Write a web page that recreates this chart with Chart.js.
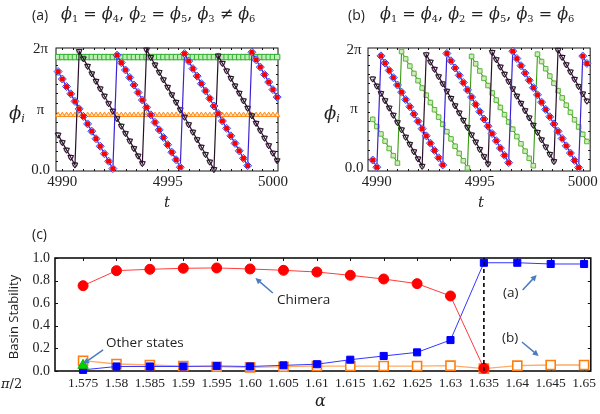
<!DOCTYPE html>
<html>
<head>
<meta charset="utf-8">
<script src="https://cdn.jsdelivr.net/npm/chart.js@4.4.1/dist/chart.umd.min.js"></script>
<style>
  body { margin: 0; background: #fff; }
  #fig { position: relative; width: 600px; height: 414px; overflow: hidden; background: #fff; }
  canvas { position: absolute; }
  .t { position: absolute; white-space: nowrap; color: #222; line-height: 1; }
  .sans { font-family: "Open Sans", sans-serif; }
  .ser { font-family: "DejaVu Serif", serif; }
  .ser i { font-style: italic; }
  sub { font-size: 0.62em; vertical-align: -0.3em; font-style: normal; }
  .lbl { font-family: "Open Sans", sans-serif; font-size: 13.5px; color: #222; }
</style>
</head>
<body>
<div id="fig">
  <canvas id="ca" width="300" height="215" style="left:0;top:0"></canvas>
  <canvas id="cb" width="300" height="215" style="left:300px;top:0"></canvas>
  <canvas id="cc" width="600" height="194" style="left:0;top:220px"></canvas>

  <div class="t sans" style="left:32px;top:8px;font-size:14px">(a)</div>
  <div class="t ser" style="left:61px;top:6px;font-size:16px"><i>ϕ</i><sub>1</sub> = <i>ϕ</i><sub>4</sub>, <i>ϕ</i><sub>2</sub> = <i>ϕ</i><sub>5</sub>, <i>ϕ</i><sub>3</sub> ≠ <i>ϕ</i><sub>6</sub></div>
  <div class="t sans" style="left:348px;top:8px;font-size:14px">(b)</div>
  <div class="t ser" style="left:380px;top:6px;font-size:16px"><i>ϕ</i><sub>1</sub> = <i>ϕ</i><sub>4</sub>, <i>ϕ</i><sub>2</sub> = <i>ϕ</i><sub>5</sub>, <i>ϕ</i><sub>3</sub> = <i>ϕ</i><sub>6</sub></div>

  <div class="t ser" style="left:9px;top:104px;font-size:18px"><i>ϕ</i><sub><i>i</i></sub></div>
  <div class="t ser" style="left:324px;top:104px;font-size:18px"><i>ϕ</i><sub><i>i</i></sub></div>
  <div class="t ser" style="left:164px;top:195px;font-size:15px"><i>t</i></div>
  <div class="t ser" style="left:478px;top:195px;font-size:15px"><i>t</i></div>

  <div class="t sans" style="left:32px;top:227px;font-size:14px">(c)</div>
  <div class="t sans" style="left:13px;top:317px;font-size:13px;transform:translate(-50%,-50%) rotate(-90deg)">Basin Stability</div>
  <div class="t ser" style="left:1px;top:377px;font-size:13px"><i>π</i>/2</div>
  <div class="t ser" style="left:315px;top:393px;font-size:16px"><i>α</i></div>

  <div class="t lbl" style="left:277px;top:293px">Chimera</div>
  <div class="t lbl" style="left:106px;top:336px">Other states</div>
  <div class="t lbl" style="left:503px;top:286px">(a)</div>
  <div class="t lbl" style="left:502px;top:331px">(b)</div>
</div>

<script>
// время (общая сетка для обоих фазовых графиков)
const T = [4989.8, 4990.0, 4990.2, 4990.4, 4990.6, 4990.8,
  4991.0, 4991.2, 4991.4, 4991.6, 4991.8,
  4992.0, 4992.2, 4992.4, 4992.6, 4992.8,
  4993.0, 4993.2, 4993.4, 4993.6, 4993.8,
  4994.0, 4994.2, 4994.4, 4994.6, 4994.8,
  4995.0, 4995.2, 4995.4, 4995.6, 4995.8,
  4996.0, 4996.2, 4996.4, 4996.6, 4996.8,
  4997.0, 4997.2, 4997.4, 4997.6, 4997.8,
  4998.0, 4998.2, 4998.4, 4998.6, 4998.8,
  4999.0, 4999.2, 4999.4, 4999.6, 4999.8,
  5000.0, 5000.2];

// (a) phi1 = phi4, phi2 = phi5, phi3, phi6
const phi1A = [5.14, 4.75, 4.36, 3.98, 3.59, 3.20, 2.81, 2.42, 2.04, 1.65, 1.26, 0.87, 0.48, 0.10, 5.99,
  5.60, 5.22, 4.83, 4.44, 4.05, 3.66, 3.28, 2.89, 2.50, 2.11, 1.72, 1.34, 0.95, 0.56, 0.17, 6.07,
  5.68, 5.29, 4.90, 4.51, 4.13, 3.74, 3.35, 2.96, 2.57, 2.19, 1.80, 1.41, 1.02, 0.63, 0.25, 6.14,
  5.75, 5.37, 4.98, 4.59, 4.20, 3.81];
const phi2A = [1.85, 1.46, 1.07, 0.69, 0.30,
  6.19, 5.81, 5.42, 5.03, 4.64, 4.25, 3.87, 3.48, 3.09, 2.70, 2.31, 1.93, 1.54, 1.15, 0.76, 0.37,
  6.27, 5.88, 5.49, 5.10, 4.72, 4.33, 3.94, 3.55, 3.16, 2.78, 2.39, 2.00, 1.61, 1.22, 0.84, 0.45, 0.06,
  5.96, 5.57, 5.18, 4.79, 4.40, 4.02, 3.63, 3.24, 2.85, 2.46, 2.08, 1.69, 1.30, 0.91, 0.52];
const phi3A = [5.89, 5.89, 5.89, 5.89, 5.89, 5.89, 5.89, 5.89, 5.89, 5.89, 5.89, 5.89, 5.89, 5.89,
  5.89, 5.89, 5.89, 5.89, 5.89, 5.89, 5.89, 5.89, 5.89, 5.89, 5.89, 5.89, 5.89, 5.89, 5.89, 5.89,
  5.89, 5.89, 5.89, 5.89, 5.89, 5.89, 5.89, 5.89, 5.89, 5.89, 5.89, 5.89, 5.89, 5.89, 5.89, 5.89,
  5.89, 5.89, 5.89, 5.89, 5.89, 5.89, 5.89];
const phi6A = [2.88, 2.88, 2.88, 2.88, 2.88, 2.88, 2.88, 2.88, 2.88, 2.88, 2.88, 2.88, 2.88, 2.88,
  2.88, 2.88, 2.88, 2.88, 2.88, 2.88, 2.88, 2.88, 2.88, 2.88, 2.88, 2.88, 2.88, 2.88, 2.88, 2.88,
  2.88, 2.88, 2.88, 2.88, 2.88, 2.88, 2.88, 2.88, 2.88, 2.88, 2.88, 2.88, 2.88, 2.88, 2.88, 2.88,
  2.88, 2.88, 2.88, 2.88, 2.88, 2.88, 2.88];

// (b) phi1 = phi4, phi2 = phi5, phi3 = phi6
const phi1B = [0.45, 0.07,
  5.96, 5.58, 5.19, 4.81, 4.42, 4.04, 3.65, 3.27, 2.88, 2.50, 2.11, 1.73, 1.34, 0.96, 0.57, 0.19,
  6.09, 5.70, 5.32, 4.93, 4.55, 4.16, 3.78, 3.39, 3.01, 2.62, 2.24, 1.85, 1.47, 1.08, 0.70, 0.31,
  6.21, 5.82, 5.44, 5.05, 4.67, 4.28, 3.90, 3.51, 3.13, 2.74, 2.36, 1.97, 1.59, 1.20, 0.82, 0.43, 0.05,
  5.95, 5.56];
const phi2B = [4.75, 4.37, 3.98, 3.60, 3.21, 2.83, 2.44, 2.06, 1.67, 1.29, 0.90, 0.52, 0.13,
  6.03, 5.64, 5.26, 4.87, 4.49, 4.10, 3.72, 3.33, 2.95, 2.56, 2.18, 1.79, 1.41, 1.02, 0.64, 0.25,
  6.15, 5.77, 5.38, 5.00, 4.61, 4.23, 3.84, 3.46, 3.07, 2.69, 2.30, 1.92, 1.53, 1.15, 0.76, 0.38,
  6.27, 5.89, 5.50, 5.12, 4.73, 4.35, 3.96, 3.58];
const phi3B = [2.60, 2.22, 1.83, 1.45, 1.06, 0.68, 0.29,
  6.19, 5.80, 5.42, 5.03, 4.65, 4.26, 3.88, 3.49, 3.11, 2.72, 2.34, 1.95, 1.57, 1.18, 0.80, 0.41, 0.03,
  5.93, 5.54, 5.16, 4.77, 4.39, 4.00, 3.62, 3.23, 2.85, 2.46, 2.08, 1.69, 1.31, 0.92, 0.54, 0.15,
  6.05, 5.66, 5.28, 4.89, 4.51, 4.12, 3.74, 3.35, 2.97, 2.58, 2.20, 1.81, 1.43];

const tTicks = [4990, 4995, 5000];
const phiTicks = [0, Math.PI, 2 * Math.PI];
const phiLabels = ["0.0", "π", "2π"];

// (c) basin stability
const alpha = [1.575, 1.58, 1.585, 1.59, 1.595, 1.60, 1.605, 1.61, 1.615, 1.62, 1.625, 1.63, 1.635, 1.64, 1.645, 1.65];
const alphaLabels = ["1.575", "1.58", "1.585", "1.59", "1.595", "1.60", "1.605", "1.61", "1.615", "1.62", "1.625", "1.63", "1.635", "1.64", "1.645", "1.65"];
const chimera = [0.755, 0.888, 0.90, 0.909, 0.912, 0.903, 0.891, 0.876, 0.847, 0.814, 0.773, 0.664, 0.024, null, null, null];
const stateA = [0.01, 0.04, 0.04, 0.04, 0.044, 0.04, 0.05, 0.06, 0.10, 0.133, 0.165, 0.274, 0.958, 0.958, 0.947, 0.947];
const stateB = [0.091, 0.062, 0.053, 0.044, 0.038, 0.032, 0.038, 0.044, 0.044, 0.044, 0.044, 0.047, 0.021, 0.047, 0.053, 0.053];
const otherStates = [0.05, null, null, null, null, null, null, null, null, null, null, null, null, null, null, null];
const bsTicks = [0, 0.2, 0.4, 0.6, 0.8, 1.0];
const transitionAlpha = 1.635;
// стрелки-подписи: [x0, y0, x1, y1] в координатах данных
const arrows = [
  [1.6034, 0.69, 1.6008, 0.823],
  [1.5780, 0.186, 1.5750, 0.062],
  [1.6408, 0.717, 1.6429, 0.85],
  [1.6407, 0.257, 1.6432, 0.133]
];

const SERIF = "'Liberation Serif', 'Times New Roman', serif";
Chart.defaults.color = "#222";

const pts = (xs, ys) => xs.map((x, i) => ({ x: x, y: ys[i] }));

// рамка с внутренними засечками
const framePlugin = {
  id: "frame",
  beforeDatasetsDraw(chart, args, o) {
    const { ctx, chartArea: a, scales: { x, y } } = chart;
    ctx.save();
    ctx.strokeStyle = "#111";
    ctx.lineWidth = o.width;
    ctx.strokeRect(a.left, a.top, a.right - a.left, a.bottom - a.top);
    ctx.lineWidth = 1;
    ctx.beginPath();
    (o.xTicks || []).forEach(v => {
      const px = Math.round(x.getPixelForValue(v)) + 0.5;
      ctx.moveTo(px, a.top); ctx.lineTo(px, a.top + o.len);
      ctx.moveTo(px, a.bottom); ctx.lineTo(px, a.bottom - o.len);
    });
    (o.yTicks || []).forEach(v => {
      const py = Math.round(y.getPixelForValue(v)) + 0.5;
      ctx.moveTo(a.left, py); ctx.lineTo(a.left + o.len, py);
      ctx.moveTo(a.right, py); ctx.lineTo(a.right - o.len, py);
    });
    ctx.stroke();
    ctx.restore();
  }
};

const minorT = [];
for (let v = 4990; v <= 5000.01; v += 0.5) minorT.push(v);
const minorPhi = [];
for (let v = 0.5; v < 6.3; v += 0.5) minorPhi.push(v);

function phaseChart(id, xMin, xMax, yMin, yMax, pad, yWidth, labelPad, datasets) {
  return new Chart(document.getElementById(id), {
    type: "line",
    data: { datasets: datasets },
    options: {
      responsive: false,
      animation: false,
      events: [],
      layout: { padding: pad },
      plugins: {
        legend: { display: false },
        tooltip: { enabled: false },
        frame: { width: 1, len: 2, xTicks: minorT, yTicks: minorPhi }
      },
      scales: {
        x: {
          type: "linear", min: xMin, max: xMax,
          grid: { display: false, drawTicks: false },
          border: { display: false },
          afterBuildTicks: s => { s.ticks = tTicks.map(v => ({ value: v })); },
          afterFit: s => { s.height = 215 - pad.top - (171 - 48) - pad.bottom; },
          ticks: { font: { family: SERIF, size: 15 }, padding: 2, maxRotation: 0, autoSkip: false, callback: v => String(v) }
        },
        y: {
          min: yMin, max: yMax,
          grid: { display: false, drawTicks: false },
          border: { display: false },
          afterBuildTicks: s => { s.ticks = phiTicks.map(v => ({ value: v })); },
          afterFit: s => { s.width = yWidth; },
          ticks: { font: { family: SERIF, size: 15 }, padding: labelPad, crossAlign: "center", autoSkip: false,
                   callback: (v, i) => phiLabels[i] }
        }
      }
    },
    plugins: [framePlugin]
  });
}

function diag(d) { return Object.assign({ clip: false, pointHoverRadius: 0 }, d); }

phaseChart("ca", 4989.70, 5000.24, -0.026, 6.361, { left: 0, right: 22, top: 48, bottom: 0 }, 56, 6, [
  diag({ data: pts(T, phi1A), showLine: false, pointStyle: "circle", pointRadius: 2.6,
         pointBackgroundColor: "#ff0000", pointBorderWidth: 0, order: 1 }),
  diag({ data: pts(T, phi1A), borderColor: "#3a22d6", borderWidth: 1.2, pointStyle: "rectRot", pointRadius: 4,
         pointBorderColor: "#2f4dff", pointBackgroundColor: "#d6ddff", pointBorderWidth: 1, order: 2 }),
  diag({ data: pts(T, phi2A), borderColor: "#2a0f2a", borderWidth: 1.2, pointStyle: "triangle", rotation: 180,
         pointRadius: 3.4, pointBorderColor: "#1a1a1a", pointBackgroundColor: "rgba(255,255,255,0)", pointBorderWidth: 1, order: 3 }),
  diag({ data: pts(T, phi2A), showLine: false, pointStyle: "circle", pointRadius: 2.4,
         pointBorderColor: "#a35aa3", pointBackgroundColor: "rgba(255,255,255,0)", pointBorderWidth: 1, order: 4 }),
  diag({ data: pts(T, phi3A), borderColor: "#2fae2f", borderWidth: 1, pointStyle: "rect", pointRadius: 3.8,
         pointBorderColor: "#2fae2f", pointBackgroundColor: "#bdeeb4", pointBorderWidth: 1, order: 5 }),
  diag({ data: pts(T, phi6A), borderColor: "#ff9933", borderWidth: 1, pointStyle: "triangle", pointRadius: 3,
         pointBorderColor: "#ff8c1a", pointBackgroundColor: "#ffdcae", pointBorderWidth: 1, order: 6 })
]);

phaseChart("cb", 4989.57, 5000.36, -0.13, 6.377, { left: 0, right: 7, top: 48, bottom: 0 }, 68, 4.5, [
  diag({ data: pts(T, phi1B), showLine: false, pointStyle: "circle", pointRadius: 2.6,
         pointBackgroundColor: "#ff0000", pointBorderWidth: 0, order: 1 }),
  diag({ data: pts(T, phi1B), borderColor: "#3a22d6", borderWidth: 1.2, pointStyle: "rectRot", pointRadius: 4,
         pointBorderColor: "#2f4dff", pointBackgroundColor: "#d6ddff", pointBorderWidth: 1, order: 2 }),
  diag({ data: pts(T, phi2B), borderColor: "#2a0f2a", borderWidth: 1.2, pointStyle: "triangle", rotation: 180,
         pointRadius: 3.4, pointBorderColor: "#1a1a1a", pointBackgroundColor: "rgba(255,255,255,0)", pointBorderWidth: 1, order: 3 }),
  diag({ data: pts(T, phi2B), showLine: false, pointStyle: "circle", pointRadius: 2.4,
         pointBorderColor: "#a35aa3", pointBackgroundColor: "rgba(255,255,255,0)", pointBorderWidth: 1, order: 4 }),
  diag({ data: pts(T, phi3B), borderColor: "#3c9a12", borderWidth: 1.1, pointStyle: "rect", pointRadius: 3.2,
         pointBorderColor: "#5bb845", pointBackgroundColor: "#cdeeb8", pointBorderWidth: 1, order: 5 }),
  diag({ data: pts(T, phi3B), showLine: false, pointStyle: "triangle", pointRadius: 2.8,
         pointBorderColor: "#f0a030", pointBackgroundColor: "rgba(255,255,255,0)", pointBorderWidth: 1, order: 6 })
]);

// (c): пунктир перехода и стрелки
const notesPlugin = {
  id: "notes",
  afterDatasetsDraw(chart) {
    const { ctx, scales: { x, y } } = chart;
    ctx.save();
    ctx.strokeStyle = "#000";
    ctx.lineWidth = 1.6;
    ctx.setLineDash([4, 3]);
    ctx.beginPath();
    ctx.moveTo(x.getPixelForValue(transitionAlpha), y.getPixelForValue(0));
    ctx.lineTo(x.getPixelForValue(transitionAlpha), y.getPixelForValue(1));
    ctx.stroke();
    ctx.setLineDash([]);
    ctx.strokeStyle = "#4a7cc4";
    ctx.fillStyle = "#4a7cc4";
    ctx.lineWidth = 1.5;
    arrows.forEach(([ax, ay, bx, by]) => {
      const x0 = x.getPixelForValue(ax), y0 = y.getPixelForValue(ay);
      const x1 = x.getPixelForValue(bx), y1 = y.getPixelForValue(by);
      const ang = Math.atan2(y1 - y0, x1 - x0);
      ctx.beginPath();
      ctx.moveTo(x0, y0);
      ctx.lineTo(x1 - 4 * Math.cos(ang), y1 - 4 * Math.sin(ang));
      ctx.stroke();
      ctx.beginPath();
      ctx.moveTo(x1, y1);
      ctx.lineTo(x1 - 6 * Math.cos(ang) + 3 * Math.sin(ang), y1 - 6 * Math.sin(ang) - 3 * Math.cos(ang));
      ctx.lineTo(x1 - 6 * Math.cos(ang) - 3 * Math.sin(ang), y1 - 6 * Math.sin(ang) + 3 * Math.cos(ang));
      ctx.closePath();
      ctx.fill();
    });
    ctx.restore();
  }
};

new Chart(document.getElementById("cc"), {
  type: "line",
  data: {
    datasets: [
      diag({ data: pts(alpha, chimera), borderColor: "#ff3b3b", borderWidth: 1, pointStyle: "circle", pointRadius: 5,
             pointBackgroundColor: "#ff0000", pointBorderColor: "#ff0000", order: 1 }),
      diag({ data: pts(alpha, otherStates), showLine: false, pointStyle: "triangle", pointRadius: 6,
             pointBackgroundColor: "#00d400", pointBorderColor: "#00b800", order: 2 }),
      diag({ data: pts(alpha, stateA), borderColor: "#3535ff", borderWidth: 1, pointStyle: "rect", pointRadius: 5,
             pointBackgroundColor: "#0000ff", pointBorderColor: "#0000ff", order: 3 }),
      diag({ data: pts(alpha, stateB), borderColor: "#ffab66", borderWidth: 1.3, pointStyle: "rect", pointRadius: 6.4,
             pointBackgroundColor: "#ffffff", pointBorderColor: "#ff7f0e", pointBorderWidth: 1.6, order: 4 })
    ]
  },
  options: {
    responsive: false,
    animation: false,
    events: [],
    layout: { padding: { left: 0, right: 8, top: 38, bottom: 0 } },
    plugins: {
      legend: { display: false },
      tooltip: { enabled: false },
      frame: { width: 1.6, len: 3, xTicks: alpha, yTicks: bsTicks }
    },
    scales: {
      x: {
        type: "linear", min: Math.PI / 2, max: 1.651,
        grid: { display: false, drawTicks: false },
        border: { display: false },
        afterBuildTicks: s => { s.ticks = alpha.map(v => ({ value: v })); },
        afterFit: s => { s.height = 43; },
        ticks: { font: { family: SERIF, size: 13.5 }, padding: 4, maxRotation: 0, autoSkip: false, callback: (v, i) => alphaLabels[i] }
      },
      y: {
        min: 0, max: 1,
        grid: { display: false, drawTicks: false },
        border: { display: false },
        afterBuildTicks: s => { s.ticks = bsTicks.map(v => ({ value: v })); },
        afterFit: s => { s.width = 55; },
        ticks: { font: { family: SERIF, size: 14 }, padding: 5, callback: v => v.toFixed(1) }
      }
    }
  },
  plugins: [framePlugin, notesPlugin]
});
</script>
</body>
</html>
